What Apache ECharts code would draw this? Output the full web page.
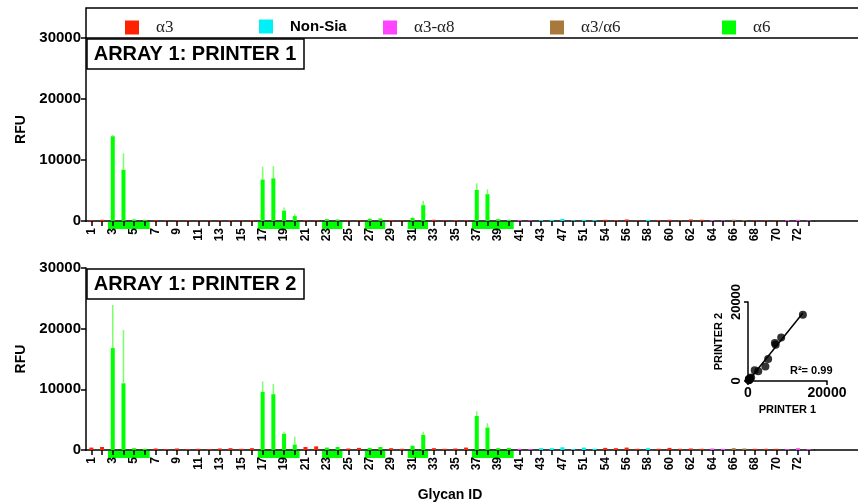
<!DOCTYPE html>
<html><head><meta charset="utf-8">
<script src="https://cdn.jsdelivr.net/npm/echarts@6/dist/echarts.min.js"></script>
<style>html,body{margin:0;padding:0;background:#fff}#c{width:858px;height:503px}</style>
</head><body><div id="c"></div>
<script>
// ---- data ----
const glycanIds = ['1','2','3','4','5','6','7','8','9','10','11','12','13','14','15','16','17','18','19','20',
  '21','22','23','24','25','26','27','28','29','30','31','32','33','34','35','36','37','38','39','40',
  '41','42','43','45','47','49','51','53','54','55','56','57','58','59','60','61','62','63','64','65',
  '66','67','68','69','70','71','72','73'];
const glycanTypes = ['a3','a3','a6','a6','a6','a6','a3','a3','a3','a3','a3','a3','a3','a3','a3','a3','a6','a6','a6','a6',
  'a3','a3','a6','a6','a3','a3','a6','a6','a3','a3','a6','a6','a3','a3','a3','a3','a6','a6','a6','a6',
  'a38','a38','ns','ns','ns','ns','ns','ns','a3','a3','a3','a3','ns','a3','a3','a3','a3','a3','a38','a38',
  'a36','a36','a3','a3','a3','a38','a38','a38'];
const typeKeys = ['a3','ns','a38','a36','a6'];
const typeNames = ['α3','Non-Sia','α3-α8','α3/α6','α6'];
const typeColors = ['#ff2200','#00f0f8','#ff44ff','#a8783c','#00ff00'];
const printer1RFU = [150,200,13900,8400,250,200, 150,100,120,100,100,100,120,150,100,150, 6800,7000,1700,800,
  150,100,300,250,100,100,350,400,150,100,500,2600,200,100,150,100,5100,4400,300,200,
  150,100,150,200,350,100,200,150,200,150,250,100,200,150,200,100,250,200,150,100,
  200,150,100,100,100,150,200,100];
const printer1Err = [0,0,200,2700,100,0,0,0,0,0,0,0,0,0,0,0,2100,2000,500,300,
  0,0,0,0,0,0,150,100,0,0,200,700,0,0,0,0,1100,800,0,0,
  0,0,0,0,0,0,0,0,0,0,0,0,0,0,0,0,0,0,0,0, 0,0,0,0,0,0,0,0];
const printer2RFU = [400,500,16800,11000,300,200, 250,150,250,150,200,150,250,300,200,300, 9600,9200,2700,900,
  500,600,400,500,250,350,350,500,300,200,700,2500,300,200,250,400,5600,3700,300,350,
  200,150,300,300,450,150,400,200,350,300,400,200,300,200,350,200,250,200,250,200,
  300,250,200,200,200,150,300,150];
const printer2Err = [0,0,7100,8800,0,0,0,0,0,0,0,0,0,0,0,0,1700,1700,300,1300,
  0,0,0,0,0,0,0,0,0,0,0,500,0,0,0,0,800,700,0,0,
  0,0,0,0,0,0,0,0,0,0,0,0,0,0,0,0,0,0,0,0, 0,0,0,0,0,0,0,0];
const alpha6Bands = [['3','6'],['17','20'],['23','24'],['27','28'],['31','32'],['37','40']];
const panelTitles = ['ARRAY 1: PRINTER 1','ARRAY 1: PRINTER 2'];
const rSquaredText = 'R²= 0.99';

// ---- build ----
const FONT = 'Liberation Sans, Arial, sans-serif';
const chart = echarts.init(document.getElementById('c'), null, {renderer:'canvas'});
const plain = v => String(v);

function barSeries(vals, gi) {
  return typeKeys.map((k, t) => ({
    type:'bar', name:typeNames[t], xAxisIndex:gi, yAxisIndex:gi, stack:'p'+gi,
    barWidth:4, itemStyle:{color:typeColors[t]}, silent:true,
    data: vals.map((v, i) => glycanTypes[i] === k ? v : '-')
  }));
}
function errSeries(vals, errs, gi) {
  const d = [];
  vals.forEach((v, i) => { if (errs[i] > 0) d.push([i, v, v + errs[i]]); });
  return {
    type:'custom', xAxisIndex:gi, yAxisIndex:gi, silent:true, z:3,
    encode:{x:0, y:[1,2]}, data:d,
    renderItem(params, api) {
      const a = api.coord([api.value(0), api.value(1)]);
      const b = api.coord([api.value(0), api.value(2)]);
      return {type:'line', shape:{x1:a[0], y1:a[1], x2:b[0], y2:b[1]}, style:{stroke:'#7dff6a', lineWidth:1.5}};
    }
  };
}
function bandSeries(gi) {
  const d = alpha6Bands.map(b => [glycanIds.indexOf(b[0]), glycanIds.indexOf(b[1]), 0]);
  return {
    type:'custom', xAxisIndex:gi, yAxisIndex:gi, silent:true, clip:false, z:-1,
    encode:{x:[0,1], y:2}, data:d,
    renderItem(params, api) {
      const a = api.coord([api.value(0), 0]);
      const b = api.coord([api.value(1), 0]);
      const w = api.size([1, 0])[0];
      return {type:'rect', shape:{x:a[0]-w*0.45, y:a[1]+1, width:b[0]-a[0]+w*0.9, height:7}, style:{fill:'#00ff00'}};
    }
  };
}
// inset scatter built from the alpha6 glycans
const scatterPts = [];
glycanTypes.forEach((t, i) => { if (t === 'a6') scatterPts.push([printer1RFU[i], printer2RFU[i]]); });
const n = scatterPts.length;
const mx = scatterPts.reduce((s,p)=>s+p[0],0)/n, my = scatterPts.reduce((s,p)=>s+p[1],0)/n;
let sxy=0, sxx=0; scatterPts.forEach(p=>{sxy+=(p[0]-mx)*(p[1]-my); sxx+=(p[0]-mx)**2;});
const slope = sxy/sxx, icpt = my - slope*mx;
const xMax = Math.max(...scatterPts.map(p=>p[0]));
const fitLine = [[0, icpt], [xMax, icpt + slope*xMax]];

const axLine = {show:true, lineStyle:{color:'#000', width:1.5}};
function xCat(gi, withName) {
  return {
    type:'category', gridIndex:gi, data:glycanIds, boundaryGap:true,
    axisLine:axLine, axisTick:{show:true, alignWithLabel:true, interval:0, length:5, lineStyle:{color:'#000', width:1.5}},
    axisLabel:{interval:1, rotate:90, color:'#000', fontFamily:FONT, fontWeight:'bold', fontSize:12, margin:7},
    name: withName ? 'Glycan ID' : '', nameLocation:'middle', nameGap:38,
    nameTextStyle:{color:'#000', fontFamily:FONT, fontWeight:'bold', fontSize:14}
  };
}
function yVal(gi) {
  return {
    type:'value', gridIndex:gi, min:0, max:30000, interval:10000,
    axisLine:axLine, axisTick:{show:true, length:5, lineStyle:{color:'#000', width:1.5}}, splitLine:{show:false},
    axisLabel:{color:'#000', fontFamily:FONT, fontWeight:'bold', fontSize:15, margin:5, formatter:plain},
    name:'RFU', nameLocation:'middle', nameGap:57,
    nameTextStyle:{color:'#000', fontFamily:FONT, fontWeight:'bold', fontSize:14}
  };
}
const legendLefts = [[120,151],[254,286],[378,410],[545,577],[717,748]];
const legends = typeNames.map((nm, t) => ({
  data:[nm], left:legendLefts[t][0], top:14, icon:'rect', itemWidth:14, itemHeight:14, itemGap:0,
  selectedMode:false,
  textStyle: t === 1 ? {color:'#000', fontFamily:FONT, fontWeight:'bold', fontSize:15, padding:[0,0,0,12]}
                     : {color:'#222', fontFamily:'Liberation Serif, Times New Roman, serif', fontSize:17, padding:[0,0,0,12]}
}));

const option = {
  animation:false, backgroundColor:'#fff',
  legend: legends,
  grid:[
    {left:86, top:38, width:728, height:183},
    {left:86, top:268, width:728, height:182},
    {left:748, top:302, width:79, height:79}
  ],
  xAxis:[xCat(0,false), xCat(1,true), {
    type:'value', gridIndex:2, min:0, max:20000, interval:20000, splitLine:{show:false},
    axisLine:axLine, axisTick:{length:4, lineStyle:{color:'#000', width:1.5}},
    axisLabel:{color:'#000', fontFamily:FONT, fontWeight:'bold', fontSize:14, margin:5, formatter:plain},
    name:'PRINTER 1', nameLocation:'middle', nameGap:23,
    nameTextStyle:{color:'#000', fontFamily:FONT, fontWeight:'bold', fontSize:11}
  }],
  yAxis:[yVal(0), yVal(1), {
    type:'value', gridIndex:2, min:0, max:20000, interval:20000, splitLine:{show:false},
    axisLine:axLine, axisTick:{length:4, lineStyle:{color:'#000', width:1.5}},
    axisLabel:{color:'#000', fontFamily:FONT, fontWeight:'bold', fontSize:13, rotate:90, margin:5, formatter:plain},
    name:'PRINTER 2', nameLocation:'middle', nameGap:24,
    nameTextStyle:{color:'#000', fontFamily:FONT, fontWeight:'bold', fontSize:11}
  }],
  series:[
    ...barSeries(printer1RFU, 0), errSeries(printer1RFU, printer1Err, 0), bandSeries(0),
    ...barSeries(printer2RFU, 1), errSeries(printer2RFU, printer2Err, 1), bandSeries(1),
    {type:'scatter', xAxisIndex:2, yAxisIndex:2, data:scatterPts, symbolSize:8, itemStyle:{color:'#000'}, silent:true, z:4},
    {type:'line', xAxisIndex:2, yAxisIndex:2, data:fitLine, showSymbol:false, lineStyle:{color:'#000', width:1.5}, silent:true, clip:false}
  ],
  graphic:[
    {type:'rect', shape:{x:86, y:8, width:800, height:30}, style:{fill:'none', stroke:'#000', lineWidth:1.5}, z:100, silent:true},
    {type:'rect', shape:{x:87, y:39, width:217, height:30}, style:{fill:'#fff', stroke:'#000', lineWidth:1.5}, z:100, silent:true},
    {type:'text', x:195, y:54, style:{text:panelTitles[0], fill:'#000', font:'bold 20px '+FONT, textAlign:'center', textVerticalAlign:'middle'}, z:101, silent:true},
    {type:'rect', shape:{x:87, y:269, width:217, height:30}, style:{fill:'#fff', stroke:'#000', lineWidth:1.5}, z:100, silent:true},
    {type:'text', x:195, y:284, style:{text:panelTitles[1], fill:'#000', font:'bold 20px '+FONT, textAlign:'center', textVerticalAlign:'middle'}, z:101, silent:true},
    {type:'line', shape:{x1:814, y1:221, x2:858, y2:221}, style:{stroke:'#000', lineWidth:1.5}, z:100, silent:true},
    {type:'line', shape:{x1:814, y1:450, x2:858, y2:450}, style:{stroke:'#000', lineWidth:1.5}, z:100, silent:true},
    {type:'text', x:790, y:371, style:{text:rSquaredText, fill:'#000', font:'bold 11px '+FONT, textVerticalAlign:'middle'}, z:101, silent:true}
  ]
};
chart.setOption(option);
</script></body></html>
